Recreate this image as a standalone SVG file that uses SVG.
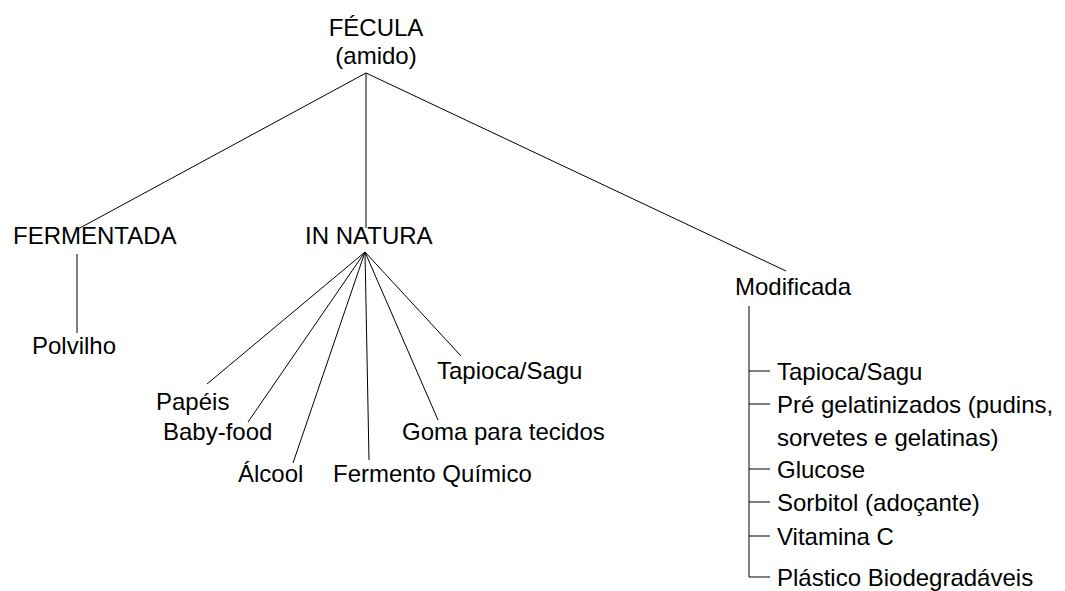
<svg xmlns="http://www.w3.org/2000/svg" width="1065" height="591" viewBox="0 0 1065 591">
<style>
text{font-family:"Liberation Sans",Arial,sans-serif;font-size:24px;fill:#000}
.c line,.c path{stroke:#000;stroke-width:1;fill:none}
</style>
<rect width="1065" height="591" fill="#fff"/>
<g class="c" id="connectors">
<line x1="366" y1="73" x2="78" y2="229"/>
<line x1="366" y1="73" x2="366" y2="228"/>
<line x1="366" y1="73" x2="786" y2="271"/>
<line x1="77" y1="254" x2="77" y2="333"/>
<line x1="365" y1="252" x2="207" y2="384"/>
<line x1="365" y1="252" x2="248" y2="422"/>
<line x1="365" y1="252" x2="293" y2="463"/>
<line x1="365" y1="252" x2="369" y2="460"/>
<line x1="365" y1="252" x2="438" y2="420"/>
<line x1="365" y1="252" x2="461" y2="356"/>
<path d="M749 306 V577 H770"/>
<line x1="749" y1="371" x2="770" y2="371"/>
<line x1="749" y1="404" x2="770" y2="404"/>
<line x1="749" y1="469" x2="770" y2="469"/>
<line x1="749" y1="502" x2="770" y2="502"/>
<line x1="749" y1="536" x2="770" y2="536"/>
</g>
<g id="fecula"><text x="376" y="36" text-anchor="middle">FÉCULA</text><text x="376" y="64" text-anchor="middle">(amido)</text></g>
<g id="fermentada"><text x="13" y="244">FERMENTADA</text></g>
<g id="innatura"><text x="305" y="244">IN NATURA</text></g>
<g id="modificada"><text x="735" y="295">Modificada</text></g>
<g id="polvilho"><text x="32" y="354">Polvilho</text></g>
<g id="papeis"><text x="156" y="410">Papéis</text></g>
<g id="babyfood"><text x="163" y="440">Baby-food</text></g>
<g id="alcool"><text x="238" y="482">Álcool</text></g>
<g id="fermento"><text x="333" y="482">Fermento Químico</text></g>
<g id="goma"><text x="402" y="440">Goma para tecidos</text></g>
<g id="tapioca1"><text x="437" y="379">Tapioca/Sagu</text></g>
<g id="tapioca2"><text x="777" y="380">Tapioca/Sagu</text></g>
<g id="pre"><text x="777" y="413">Pré gelatinizados (pudins,</text><text x="777" y="446">sorvetes e gelatinas)</text></g>
<g id="glucose"><text x="777" y="478">Glucose</text></g>
<g id="sorbitol"><text x="777" y="511">Sorbitol (adoçante)</text></g>
<g id="vitamina"><text x="777" y="545">Vitamina C</text></g>
<g id="plastico"><text x="777" y="586">Plástico Biodegradáveis</text></g>
</svg>
